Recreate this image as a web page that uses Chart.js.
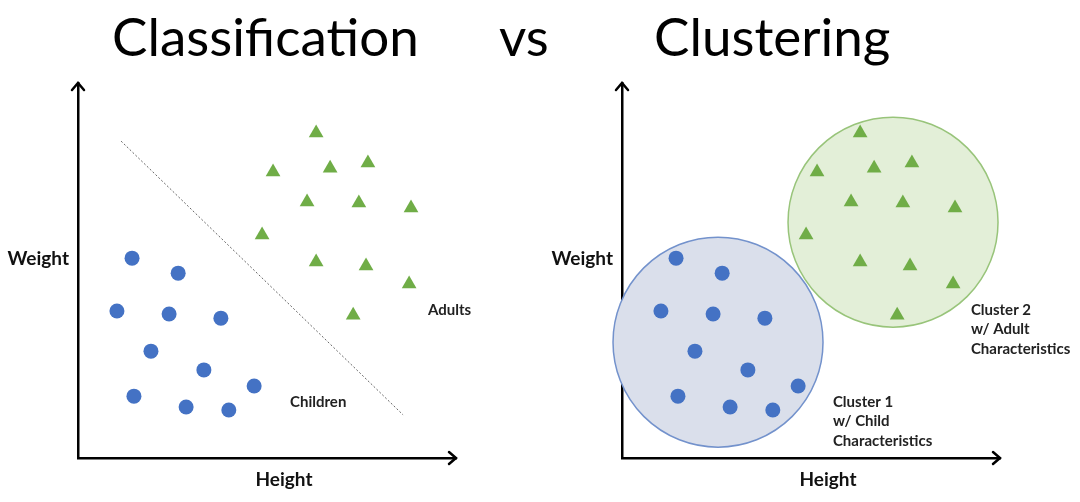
<!DOCTYPE html>
<html>
<head>
<meta charset="utf-8">
<script src="https://cdn.jsdelivr.net/npm/chart.js@4"></script>
<style>
  body { margin: 0; background: #fff; width: 1080px; height: 502px; overflow: hidden; position: relative; font-family: Lato, "Open Sans", sans-serif; }
  .t { position: absolute; top: 4px; font-size: 53px; color: #000; line-height: 64px; }
  canvas { position: absolute; top: 0; }
</style>
</head>
<body>
<span class="t" style="left:112px">Classification</span>
<span class="t" style="left:499px">vs</span>
<span class="t" style="left:654px">Clustering</span>
<canvas id="left" width="540" height="502" style="left:0"></canvas>
<canvas id="right" width="540" height="502" style="left:540px"></canvas>
<script>
// height / weight in arbitrary units (0-100)
const childHeight = [14.3, 26.5, 10.3, 24.1, 37.8, 19.3, 33.3, 46.6, 14.8, 28.6, 39.9];
const childWeight = [53.3, 49.3, 39.2, 38.4, 37.3, 28.5, 23.5, 19.2, 16.5, 13.6, 12.8];
const adultHeight = [63.0, 51.6, 66.7, 76.7, 60.6, 74.3, 88.1, 48.7, 63.0, 76.2, 87.6, 72.8];
const adultWeight = [86.7, 76.3, 77.3, 78.7, 68.3, 68.0, 66.7, 59.5, 52.3, 51.2, 46.4, 38.1];
// dotted decision boundary (two ends)
const boundaryHeight = [11.4, 86.0];
const boundaryWeight = [84.5, 11.5];
// cluster centres
const clusterHeight = [25.4, 71.7];
const clusterWeight = [30.9, 62.9];

const children = childHeight.map((x, i) => ({ x, y: childWeight[i] }));
const adults = adultHeight.map((x, i) => ({ x, y: adultWeight[i] }));

const labelFont = 'bold 15px Lato, "Open Sans", sans-serif';

// axes arrows, horizontal "Weight" label and annotations
const extras = {
  id: 'extras',
  afterDraw(chart, args, opts) {
    const ctx = chart.ctx;
    const a = chart.chartArea;
    const xs = chart.scales.x, ys = chart.scales.y;
    ctx.save();
    ctx.strokeStyle = '#000';
    ctx.lineWidth = 2.5;
    ctx.lineCap = 'round';
    ctx.beginPath();
    ctx.moveTo(a.left - 6, a.top + 7); ctx.lineTo(a.left, a.top); ctx.lineTo(a.left + 6, a.top + 7);
    ctx.moveTo(a.right - 7, a.bottom - 6); ctx.lineTo(a.right, a.bottom); ctx.lineTo(a.right - 7, a.bottom + 6);
    ctx.stroke();

    ctx.fillStyle = '#111';
    ctx.font = 'bold 19px Lato, "Open Sans", sans-serif';
    ctx.textBaseline = 'middle';
    ctx.textAlign = 'right';
    ctx.fillText('Weight', a.left - 9, ys.getPixelForValue(53));
    ctx.textAlign = 'center';
    ctx.fillText('Height', xs.getPixelForValue(54.5), a.bottom + 22);

    ctx.font = labelFont;
    ctx.fillStyle = '#222';
    ctx.textAlign = 'left';
    opts.notes.forEach(n => {
      n.lines.forEach((line, i) => {
        ctx.fillText(line, xs.getPixelForValue(n.x), ys.getPixelForValue(n.y) + i * 19.5);
      });
    });
    ctx.restore();
  }
};

function axes() {
  const base = {
    type: 'linear', min: 0, max: 100,
    ticks: { display: false },
    grid: { display: false, drawTicks: false },
    border: { display: true, color: '#000', width: 2.5 }
  };
  return {
    x: Object.assign({}, base, { afterFit: s => { s.height = 0; } }),
    y: Object.assign({}, base, { afterFit: s => { s.width = 0; } })
  };
}

function pointSets() {
  return [
    { data: children, pointStyle: 'circle', pointRadius: 7.5, backgroundColor: '#4472c4', borderWidth: 0, order: 1 },
    { data: adults, pointStyle: 'triangle', pointRadius: 8.5, backgroundColor: '#70ad47', borderWidth: 0, order: 1 }
  ];
}

const common = {
  responsive: false,
  animation: false,
  events: [],
  plugins: { legend: { display: false }, tooltip: { enabled: false } }
};

new Chart(document.getElementById('left'), {
  type: 'scatter',
  data: {
    datasets: pointSets().concat([{
      data: boundaryHeight.map((x, i) => ({ x, y: boundaryWeight[i] })),
      showLine: true, pointRadius: 0, borderColor: '#666', borderWidth: 1,
      borderDash: [2, 2], order: 2
    }])
  },
  options: Object.assign({}, common, {
    layout: { autoPadding: false, padding: { left: 78, right: 84, top: 83, bottom: 44 } },
    scales: axes(),
    plugins: Object.assign({}, common.plugins, {
      extras: { notes: [
        { x: 56.1, y: 14.9, lines: ['Children'] },
        { x: 92.6, y: 39.5, lines: ['Adults'] }
      ] }
    })
  }),
  plugins: [extras]
});

new Chart(document.getElementById('right'), {
  type: 'scatter',
  data: {
    datasets: pointSets().concat([{
      data: clusterHeight.map((x, i) => ({ x, y: clusterWeight[i] })),
      pointStyle: 'circle', pointRadius: 105,
      backgroundColor: ['#dadfeb', '#e3efd8'],
      borderColor: ['#7392cc', '#98c47a'], borderWidth: 1.5,
      clip: false, order: 3
    }])
  },
  options: Object.assign({}, common, {
    layout: { autoPadding: false, padding: { left: 82, right: 80, top: 83, bottom: 44 } },
    scales: axes(),
    plugins: Object.assign({}, common.plugins, {
      extras: { notes: [
        { x: 55.8, y: 14.9, lines: ['Cluster 1', 'w/ Child', 'Characteristics'] },
        { x: 92.3, y: 39.5, lines: ['Cluster 2', 'w/ Adult', 'Characteristics'] }
      ] }
    })
  }),
  plugins: [extras]
});
</script>
</body>
</html>
